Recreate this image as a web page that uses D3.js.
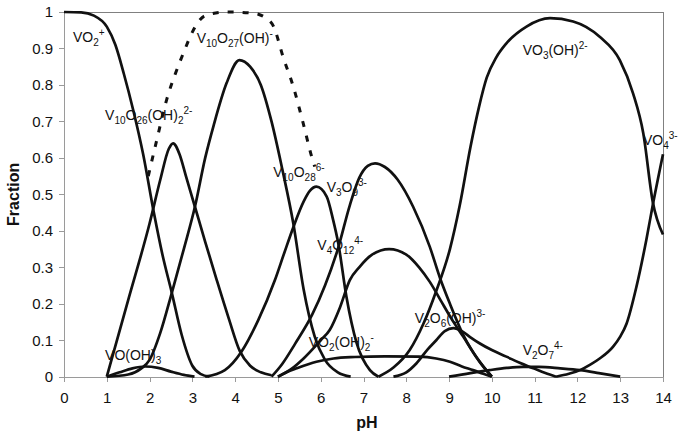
<!DOCTYPE html>
<html lang='en'>

<head>
    <meta charset='UTF-8'>
    <title>Vanadium species fraction vs pH</title>
    <script src='https://cdn.jsdelivr.net/npm/d3@7/dist/d3.min.js'></script>
    <style>
        body {
            margin: 0;
            background: #fff;
            font-family: Arial, 'Liberation Sans', sans-serif;
        }

        .axis path,
        .axis line {
            fill: none;
            stroke: #9a9a9a;
            stroke-width: 1;
            shape-rendering: crispEdges;
        }

        .axis text {
            font-family: Arial, 'Liberation Sans', sans-serif;
            font-size: 15px;
            fill: #111;
        }

        .frame {
            stroke: #808080;
            stroke-width: 1;
            shape-rendering: crispEdges;
        }

        .curve {
            fill: none;
            stroke: #111;
            stroke-width: 2.7;
            stroke-linejoin: round;
        }

        .total {
            stroke-width: 3;
            stroke-dasharray: 6, 9;
        }

        .label {
            font-size: 14px;
            fill: #111;
        }

        .title {
            font-size: 16px;
            font-weight: bold;
            fill: #111;
        }
    </style>
</head>

<body>
    <script>
        // Values: [pH, fraction]
        const vo2 = [[0, 1], [0.4, 0.999], [0.7, 0.99], [1.0, 0.96], [1.2, 0.91], [1.4, 0.83], [1.62, 0.73], [1.85, 0.61], [2.1, 0.45], [2.3, 0.335], [2.52, 0.23], [2.75, 0.115], [3.0, 0.03], [3.2, 0.007], [3.4, 0]];
        const voOH3 = [[1.0, 0], [1.3, 0.012], [1.6, 0.023], [1.9, 0.028], [2.2, 0.024], [2.5, 0.014], [2.8, 0.005], [3.05, 0]];
        const v10o26OH2 = [[1.0, 0], [1.5, 0.21], [2.0, 0.42], [2.25, 0.54], [2.45, 0.625], [2.55, 0.64], [2.7, 0.61], [2.85, 0.55], [3.06, 0.466], [3.3, 0.37], [3.57, 0.265], [3.85, 0.16], [4.11, 0.07], [4.35, 0.03], [4.6, 0.012], [4.85, 0.004]];
        const v10o27OH = [[1.0, 0], [1.5, 0.006], [1.8, 0.022], [2.0, 0.046], [2.25, 0.12], [2.52, 0.23], [2.8, 0.35], [3.06, 0.466], [3.3, 0.6], [3.5, 0.69], [3.8, 0.805], [4.1, 0.868], [4.35, 0.85], [4.6, 0.8], [4.85, 0.7], [5.1, 0.57], [5.36, 0.42], [5.6, 0.24], [5.86, 0.11], [6.1, 0.046], [6.4, 0.012], [6.7, 0]];
        const decaTotal = [[1.97, 0.55], [2.17, 0.65], [2.4, 0.76], [2.6, 0.83], [2.8, 0.89], [3.0, 0.945], [3.3, 0.99], [3.8, 1.0], [4.4, 0.997], [4.7, 0.985], [4.9, 0.96], [5.12, 0.877], [5.36, 0.795], [5.59, 0.695], [5.79, 0.603], [5.86, 0.576]];
        const v10o28 = [[3.3, 0], [3.76, 0.018], [4.15, 0.069], [4.54, 0.155], [4.93, 0.265], [5.15, 0.34], [5.36, 0.41], [5.6, 0.48], [5.75, 0.51], [5.9, 0.521], [6.14, 0.494], [6.29, 0.43], [6.41, 0.366], [6.6, 0.22], [6.84, 0.092], [7.15, 0.018], [7.35, 0]];
        const v3o9 = [[4.85, 0], [5.1, 0.035], [5.4, 0.09], [5.8, 0.17], [6.1, 0.25], [6.4, 0.35], [6.68, 0.47], [6.9, 0.545], [7.1, 0.578], [7.27, 0.585], [7.5, 0.575], [7.8, 0.54], [8.16, 0.466], [8.55, 0.356], [8.79, 0.27], [9.02, 0.2], [9.33, 0.115], [9.72, 0.04], [10, 0]];
        const v4o12 = [[5.0, 0], [5.3, 0.02], [5.6, 0.05], [6.0, 0.1], [6.21, 0.128], [6.45, 0.19], [6.68, 0.265], [6.9, 0.3], [7.2, 0.335], [7.6, 0.35], [8.0, 0.335], [8.3, 0.3], [8.55, 0.26], [8.8, 0.21], [9.05, 0.16], [9.33, 0.11], [9.66, 0.05], [10, 0]];
        const vo2OH2 = [[5.0, 0], [5.2, 0.012], [5.44, 0.023], [5.9, 0.041], [6.3, 0.05], [6.8, 0.054], [7.5, 0.056], [8.3, 0.055], [8.7, 0.05], [9.02, 0.041], [9.3, 0.028], [9.56, 0.018], [9.8, 0.008], [10, 0]];
        const v2o6OH = [[7.7, 0], [8.0, 0.012], [8.24, 0.037], [8.5, 0.075], [8.7, 0.1], [8.9, 0.125], [9.1, 0.133], [9.3, 0.125], [9.5, 0.108], [9.72, 0.091], [10.0, 0.073], [10.34, 0.055], [10.65, 0.038], [10.97, 0.023], [11.25, 0.01], [11.5, 0]];
        const v2o7 = [[9.0, 0], [9.5, 0.01], [9.95, 0.018], [10.35, 0.024], [10.73, 0.027], [11.1, 0.027], [11.6, 0.023], [12.06, 0.018], [12.5, 0.01], [13.0, 0]];
        const vo3OH = [[7.35, 0], [7.7, 0.025], [8.08, 0.073], [8.4, 0.145], [8.7, 0.235], [9.02, 0.35], [9.25, 0.47], [9.5, 0.63], [9.7, 0.74], [9.88, 0.82], [10.1, 0.875], [10.34, 0.914], [10.81, 0.96], [11.36, 0.983], [11.9, 0.974], [12.52, 0.932], [12.99, 0.868], [13.3, 0.777], [13.54, 0.667], [13.76, 0.48], [14, 0.39]];
        const vo4 = [[11.5, 0], [11.8, 0.008], [12.06, 0.018], [12.3, 0.033], [12.52, 0.05], [12.83, 0.082], [13.0, 0.11], [13.15, 0.146], [13.38, 0.247], [13.61, 0.375], [13.76, 0.47], [14, 0.61]];

        const pHTicks = [0, 1, 2, 3, 4, 5, 6, 7, 8, 9, 10, 11, 12, 13, 14];
        const fractionTicks = [0, 0.1, 0.2, 0.3, 0.4, 0.5, 0.6, 0.7, 0.8, 0.9, 1];

        const solidSeries = [vo2, voOH3, v10o26OH2, v10o27OH, v10o28, v3o9, v4o12, vo2OH2, v2o6OH, v2o7, vo3OH, vo4];

        // Species labels, _{} = subscript, ^{} = superscript, anchored in data units
        const labels = [
            { text: 'VO_{2}^{+}', pH: 0.21, f: 0.918 },
            { text: 'V_{10}O_{27}(OH)^{-}', pH: 3.1, f: 0.914 },
            { text: 'V_{10}O_{26}(OH)_{2}^{2-}', pH: 0.96, f: 0.704 },
            { text: 'V_{10}O_{28}^{6-}', pH: 4.89, f: 0.548 },
            { text: 'V_{3}O_{9}^{3-}', pH: 6.14, f: 0.507 },
            { text: 'V_{4}O_{12}^{4-}', pH: 5.92, f: 0.347 },
            { text: 'VO_{2}(OH)_{2}^{-}', pH: 5.72, f: 0.082 },
            { text: 'VO(OH)_{3}', pH: 0.96, f: 0.046 },
            { text: 'V_{2}O_{6}(OH)^{3-}', pH: 8.2, f: 0.146 },
            { text: 'V_{2}O_{7}^{4-}', pH: 10.72, f: 0.06 },
            { text: 'VO_{3}(OH)^{2-}', pH: 10.72, f: 0.882 },
            { text: 'VO_{4}^{3-}', pH: 13.53, f: 0.635 }
        ];

        /**
         * ===================================================
         * Layout & scales
         * ===================================================
        */
        const W = 680, H = 434;
        const margin = { top: 12, right: 17, bottom: 57.3, left: 64 };
        const width = W - margin.left - margin.right;
        const height = H - margin.top - margin.bottom;

        const svg = d3.select('body')
            .append('svg')
            .attr('width', W)
            .attr('height', H);

        const g = svg.append('g').attr('transform', `translate(${margin.left}, ${margin.top})`);

        const x = d3.scaleLinear().domain([0, 14]).range([0, width]);
        const y = d3.scaleLinear().domain([0, 1]).range([height, 0]);

        const line = d3.line()
            .x(d => x(d[0]))
            .y(d => y(d[1]))
            .curve(d3.curveMonotoneX);

        /**
         * ===================================================
         * Drawing
         * ===================================================
        */
        // top and right frame
        g.append('line').attr('class', 'frame')
            .attr('x1', 0).attr('x2', width).attr('y1', 0).attr('y2', 0);
        g.append('line').attr('class', 'frame')
            .attr('x1', width).attr('x2', width).attr('y1', 0).attr('y2', height);

        g.append('g')
            .attr('class', 'axis x-axis')
            .attr('transform', `translate(0, ${height})`)
            .call(d3.axisBottom(x).tickValues(pHTicks).tickSize(5).tickSizeOuter(0).tickPadding(11));

        g.append('g')
            .attr('class', 'axis y-axis')
            .call(d3.axisLeft(y).tickValues(fractionTicks).tickSize(5).tickSizeOuter(0).tickPadding(6).tickFormat(d => String(d)));

        g.selectAll('.solid')
            .data(solidSeries)
            .enter().append('path')
            .attr('class', 'curve solid')
            .attr('d', line);

        g.append('path')
            .datum(decaTotal)
            .attr('class', 'curve total')
            .attr('d', line);

        // species labels
        labels.forEach(l => {
            const t = g.append('text')
                .attr('class', 'label')
                .attr('x', x(l.pH))
                .attr('y', y(l.f));
            let shift = 0;
            const re = /([_^])\{([^}]*)\}|([^_^]+)/g;
            let m;
            while ((m = re.exec(l.text)) !== null) {
                const kind = m[1] || '';
                const target = kind === '_' ? 4 : kind === '^' ? -6 : 0;
                t.append('tspan')
                    .attr('dy', target - shift)
                    .style('font-size', kind ? '10px' : null)
                    .text(kind ? m[2] : m[3]);
                shift = target;
            }
        });

        // axis titles
        svg.append('text')
            .attr('class', 'title')
            .attr('text-anchor', 'middle')
            .attr('transform', `translate(18.5, ${margin.top + height / 2}) rotate(-90)`)
            .text('Fraction');

        svg.append('text')
            .attr('class', 'title')
            .attr('text-anchor', 'middle')
            .attr('x', 367)
            .attr('y', 428)
            .text('pH');
    </script>
</body>

</html>
